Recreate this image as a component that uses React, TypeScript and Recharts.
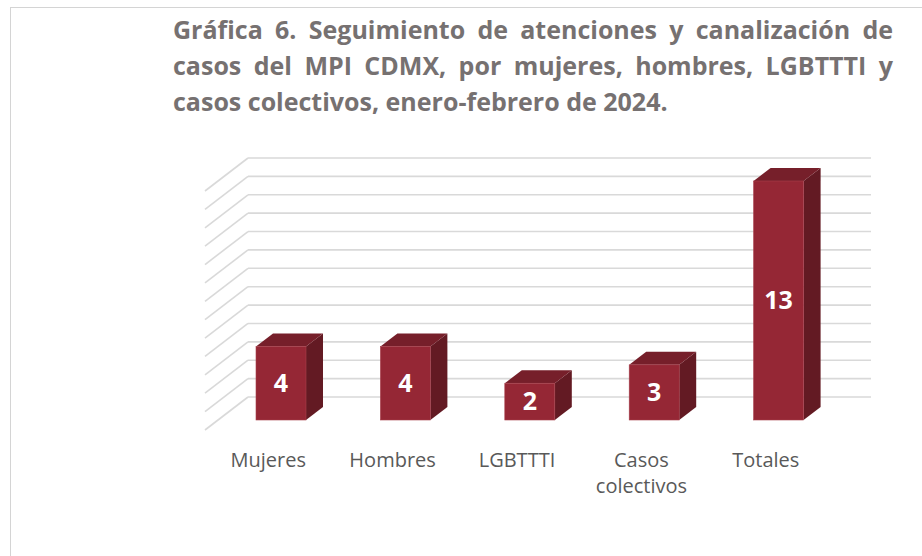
import React from "react";
import { BarChart, Bar, XAxis, YAxis, CartesianGrid, LabelList } from "recharts";

const categories = ["Mujeres", "Hombres", "LGBTTTI", "Casos colectivos", "Totales"];
const casos = [4, 4, 2, 3, 13];
const yTicks = [0, 1, 2, 3, 4, 5, 6, 7, 8, 9, 10, 11, 12, 13];
const titleLines = [
  "Gráfica 6. Seguimiento de atenciones y canalización de",
  "casos del MPI CDMX, por mujeres, hombres, LGBTTTI y",
  "casos colectivos, enero-febrero de 2024.",
];

const data = categories.map((name, i) => ({ name, casos: casos[i] }));

// 3d look: depth of bars and of the back wall
const DX = 17;
const DY = 13;
const WALL = 23;

function Bar3D(props: any) {
  const { x, y, width, height } = props;
  if (height <= 0) return null;
  const top = `${x},${y} ${x + DX},${y - DY} ${x + width + DX},${y - DY} ${x + width},${y}`;
  const side = `${x + width},${y} ${x + width + DX},${y - DY} ${x + width + DX},${y + height - DY} ${x + width},${y + height}`;
  return (
    <g>
      <polygon points={side} fill="#631a23" />
      <polygon points={top} fill="#761f2a" />
      <rect x={x} y={y} width={width} height={height} fill="#952735" stroke="#a8404c" strokeWidth={0.6} />
    </g>
  );
}

function GridLine3D(props: any) {
  const { y1, index } = props;
  const yb = y1 - WALL;
  return (
    <g key={`g-${index}`}>
      <line x1={248} y1={yb} x2={871} y2={yb} stroke="#d9d9d9" strokeWidth={1.6} />
      <line x1={205} y1={yb + 33} x2={248} y2={yb} stroke="#d9d9d9" strokeWidth={1.6} />
    </g>
  );
}

function CategoryTick(props: any) {
  const { x, y, payload } = props;
  const text: string = payload.value;
  const lines = text.length > 10 ? text.split(" ") : [text];
  return (
    <text x={x - 13} y={y + 47} textAnchor="middle" fill="#595959" fontSize={20} fontFamily="'Open Sans', sans-serif">
      {lines.map((l, i) => (
        <tspan key={l} x={x - 13} dy={i === 0 ? 0 : 26}>
          {l}
        </tspan>
      ))}
    </text>
  );
}

export default function App() {
  return (
    <div style={{ position: "absolute", left: 0, top: 0, width: 922, height: 556, overflow: "hidden", background: "#fff" }}>
      <div
        style={{
          position: "absolute",
          left: 10,
          top: 7,
          width: 960,
          height: 600,
          border: "1px solid #d4d4d4",
        }}
      />
      <div
        style={{
          position: "absolute",
          left: 173,
          top: 11,
          width: 720,
          fontFamily: "'Open Sans', sans-serif",
          fontWeight: 700,
          fontSize: 25,
          lineHeight: "36px",
          color: "#767171",
        }}
      >
        {titleLines.map((l, i) => (
          <div key={i} style={{ whiteSpace: "nowrap", textAlign: "justify", textAlignLast: i < 2 ? "justify" : "left" }}>
            {l}
          </div>
        ))}
      </div>
      <div style={{ position: "absolute", left: 0, top: 0 }}>
        <BarChart width={922} height={556} data={data} margin={{ top: 181, right: 81, bottom: 56, left: 219 }}>
          <CartesianGrid vertical={false} horizontal={(p: any) => <GridLine3D {...p} />} />
          <YAxis hide domain={[0, 13]} ticks={yTicks} interval={0} />
          <XAxis
            dataKey="name"
            axisLine={false}
            tickLine={false}
            tickSize={0}
            tickMargin={0}
            height={80}
            interval={0}
            tick={<CategoryTick />}
          />
          <Bar dataKey="casos" barSize={50} shape={<Bar3D />} isAnimationActive={false}>
            <LabelList
              dataKey="casos"
              position="center"
              fill="#ffffff"
              fontSize={25}
              fontWeight={700}
              fontFamily="'Open Sans', sans-serif"
            />
          </Bar>
        </BarChart>
      </div>
    </div>
  );
}
